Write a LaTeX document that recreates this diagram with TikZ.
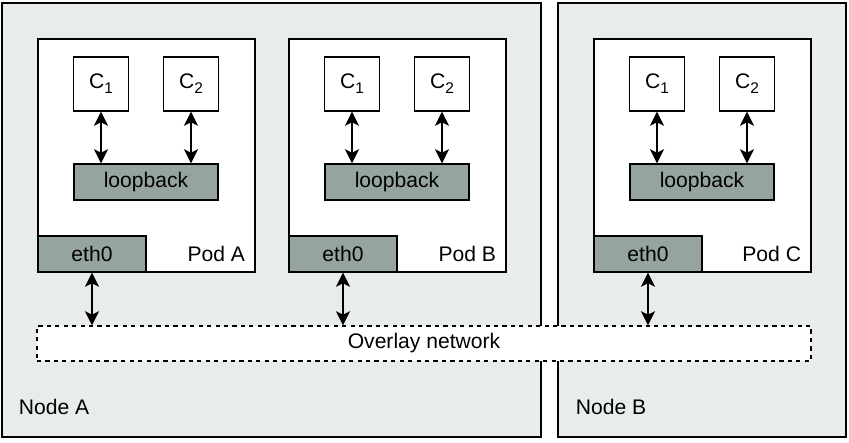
\documentclass[tikz,border=0pt]{standalone}
\usepackage{fontspec}
\setmainfont{Liberation Sans}
\usetikzlibrary{arrows.meta}
\definecolor{hostbg}{HTML}{E9ECEC}
\definecolor{ifgray}{HTML}{95A4A0}
\begin{document}
\begin{tikzpicture}[x=0.025cm,y=-0.025cm,font=\fontsize{15}{17}\selectfont,
    hostbox/.style={draw,line width=1.2pt,fill=hostbg},
    podbox/.style={draw,line width=1.2pt,fill=white},
    ctrbox/.style={draw,line width=1pt,fill=white,minimum width=1.375cm,minimum height=1.35cm,inner sep=0pt},
    ifbox/.style={draw,line width=1pt,fill=ifgray,minimum height=0.9cm,inner sep=0pt},
    dbl/.style={{Stealth[length=10pt,width=10pt,inset=2.5pt]}-{Stealth[length=10pt,width=10pt,inset=2.5pt]},line width=1.3pt}]
  \useasboundingbox (0,0) rectangle (849,442);
  % hosts
  \draw[hostbox] (2,3) rectangle (541,437);
  \draw[hostbox] (558,3) rectangle (846,437);
  \node[anchor=west] (hostA) at (14,407) {Node A};
  \node[anchor=west] (hostB) at (571,407) {Node B};
  % pods
  \def \Pods{
    A/38,
    B/289,
    C/594}
  \foreach \p / \x in \Pods{
    \draw[podbox] (\x,39) rectangle (\x+217,272);
    \node[ctrbox] (cone\p) at (\x+63,84) {C\raisebox{-0.45ex}{\fontsize{11}{12}\selectfont 1}};
    \node[ctrbox] (ctwo\p) at (\x+153,84) {C\raisebox{-0.45ex}{\fontsize{11}{12}\selectfont 2}};
    \node[ifbox,minimum width=3.6cm] (loop\p) at (\x+108,182) {loopback};
    \node[ifbox,minimum width=2.7cm] (eth\p) at (\x+54,254) {eth0};
    \node[anchor=east] (lbl\p) at (\x+212,254) {Pod \p};
    \draw[dbl] (cone\p.south) -- (cone\p.south |- loop\p.north);
    \draw[dbl] (ctwo\p.south) -- (ctwo\p.south |- loop\p.north);
  }
  % overlay
  \node[draw,dashed,line width=1pt,fill=white,minimum width=19.35cm,minimum height=0.875cm] (overlay) at (424,343.5) {Overlay network};
  \foreach \p in {A,B,C}{
    \draw[dbl] (eth\p.south) -- (eth\p.south |- overlay.north);
  }
\end{tikzpicture}
\end{document}
